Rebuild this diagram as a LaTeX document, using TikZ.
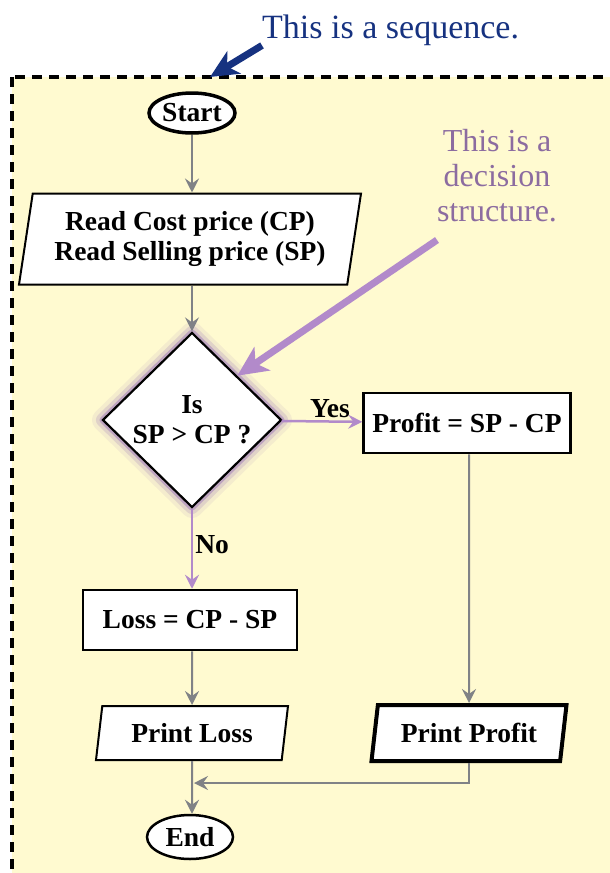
\documentclass[tikz,border=0pt]{standalone}
\usepackage{fontspec}
\setmainfont{Liberation Serif}
\usetikzlibrary{positioning,shapes.geometric,arrows.meta}
\definecolor{seqblue}{RGB}{22,50,128}
\definecolor{decpurple}{RGB}{178,138,202}
\definecolor{notepurple}{RGB}{140,108,160}
\definecolor{flowgray}{RGB}{128,130,134}
\definecolor{paneyellow}{RGB}{255,250,208}
\tikzset {
    style term/.style={
        ellipse,
        draw=black,
        fill=white,
        line width=3.5pt,
        inner sep=0pt,
        minimum width=86pt,
        minimum height=40pt,
        font=\bfseries\fontsize{27.5}{30}\selectfont,
    },
    style io/.style={
        trapezium, % a slanted box
        trapezium left angle=76,
        trapezium right angle=104,
        trapezium stretches body=true,
        draw=black,
        fill=white,
        line width=2pt,
        inner sep=0pt,
        align=center,
        font=\bfseries\fontsize{27.5}{30}\selectfont,
    },
    style proc/.style={
        rectangle,
        draw=black,
        fill=white,
        line width=2.5pt,
        inner sep=0pt,
        minimum height=60pt,
        align=center,
        font=\bfseries\fontsize{27.5}{30}\selectfont,
    },
    style dec/.style={
        diamond,
        draw=black,
        fill=white,
        line width=2.2pt,
        inner sep=0pt,
        minimum width=179pt,
        minimum height=175pt,
        align=center,
        font=\bfseries\fontsize{27.5}{30}\selectfont,
        preaction={draw=decpurple!80!gray, line width=22pt, opacity=0.12, line join=round},
        preaction={draw=decpurple!80!gray, line width=14pt, opacity=0.25, line join=round},
        preaction={draw=decpurple!80!gray, line width=7pt, opacity=0.6, line join=round},
    },
    flow/.style={
        draw=flowgray,
        line width=2pt,
        -{Stealth[length=14pt,width=14pt,inset=5pt]},
    },
    branch/.style={
        draw=decpurple,
        line width=2.5pt,
        -{Stealth[length=14pt,width=14pt,inset=5pt]},
    },
    label text/.style={font=\bfseries\fontsize{27.5}{30}\selectfont, inner sep=2pt},
}

\begin{document}
\begin{tikzpicture}[x=1pt, y=-1pt]
\useasboundingbox (0,0) rectangle (610,873);

% the shaded pane around the whole flow
\draw[fill=paneyellow, line width=3.5pt, dash pattern=on 10pt off 7pt] (12,77) rectangle (625,890);

% notes
\node[font=\fontsize{34}{36}\selectfont, text=seqblue, anchor=base west, inner sep=0pt] (seqtext) at (262,38) {This is a sequence.};
\coordinate (seqtip) at (210,77);
\node[font=\fontsize{32}{35}\selectfont, text=notepurple, align=center, inner sep=0pt] (dectext) at (497,176) {This is a\\decision\\structure.};
\coordinate (decfrom) at (437,240);

% left column
\node[style term] at (192,113) (start) {Start};
\node[style io, minimum width=342pt, minimum height=91pt] at (190,239) (read) {Read Cost price (CP)\\Read Selling price (SP)};
\node[style dec] at (192,420) (check) {Is\\SP > CP ?};
\node[style proc, minimum width=214pt] at (190,620) (loss) {Loss = CP - SP};
\node[style io, trapezium left angle=72, trapezium right angle=108, minimum width=192pt, minimum height=54pt] at (192,733) (ploss) {Print Loss};
\node[style term, line width=2.5pt, minimum width=86pt, minimum height=44pt] at (190,837) (end) {End};

% right column
\node[style proc, minimum width=207pt] at (467,423) (profit) {Profit = SP - CP};
\node[style io, line width=4pt, trapezium left angle=72, trapezium right angle=108, minimum width=195pt, minimum height=56pt] at (469,733) (pprofit) {Print Profit};
\coordinate (merge) at (194,783);

\draw[flow] (start) -- (start |- read.north);
\draw[flow] (start |- read.south) -- (check);
\draw[branch] (check) -- node[label text, above, pos=0.6] {Yes} (profit);
\draw[branch] (check) -- node[label text, right, pos=0.45] {No} (loss.north -| check);
\draw[flow] (profit.south -| pprofit) -- (pprofit);
\draw[flow] (loss.south -| ploss) -- (ploss);
\draw[flow] (ploss) -- (ploss |- end.north);
\draw[flow] (pprofit) |- (merge);

\draw[draw=seqblue, line width=7pt, -{Stealth[length=28pt,width=26pt,inset=8pt]}] (seqtext.south west) -- (seqtip);
\draw[draw=decpurple, line width=7pt, -{Stealth[length=30pt,width=28pt,inset=8pt]}] (decfrom) -- (check.north east);
\end{tikzpicture}
\end{document}
